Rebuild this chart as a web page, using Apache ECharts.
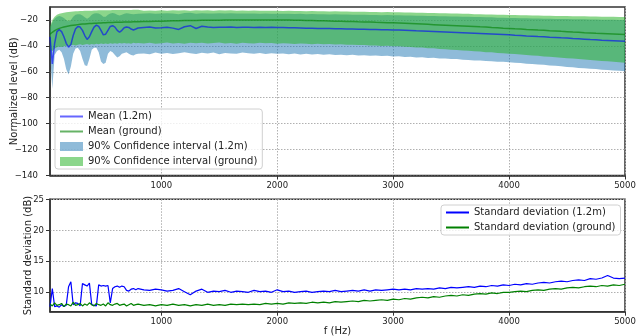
<!DOCTYPE html>
<html>
<head>
<meta charset="utf-8">
<script src="https://cdn.jsdelivr.net/npm/echarts@6/dist/echarts.min.js"></script>
<style>
  html, body { margin: 0; padding: 0; background: #fff; }
  #chart { width: 636px; height: 336px; }
</style>
</head>
<body>
<div id="chart"></div>
<script>
// frequency samples (Hz): 20 Hz steps up to 800, then 50 Hz steps
const freq = [
  40, 60, 80, 100, 120, 140, 160, 180, 200, 220,
  240, 260, 280, 300, 320, 340, 360, 380, 400, 420,
  440, 460, 480, 500, 520, 540, 560, 580, 600, 620,
  640, 660, 680, 700, 720, 740, 760, 780, 800,
  850, 900, 950, 1000, 1050, 1100, 1150, 1200, 1250, 1300,
  1350, 1400, 1450, 1500, 1550, 1600, 1650, 1700, 1750, 1800,
  1850, 1900, 1950, 2000, 2050, 2100, 2150, 2200, 2250, 2300,
  2350, 2400, 2450, 2500, 2550, 2600, 2650, 2700, 2750, 2800,
  2850, 2900, 2950, 3000, 3050, 3100, 3150, 3200, 3250, 3300,
  3350, 3400, 3450, 3500, 3550, 3600, 3650, 3700, 3750, 3800,
  3850, 3900, 3950, 4000, 4050, 4100, 4150, 4200, 4250, 4300,
  4350, 4400, 4450, 4500, 4550, 4600, 4650, 4700, 4750, 4800,
  4850, 4900, 4950, 5000
];

const meanHigh = [
  -33, -54, -38, -29, -27.5, -29, -33, -38, -41, -39,
  -32, -27, -25, -25.5, -28, -32, -35, -33, -29, -25.5,
  -24, -25, -28, -31.5, -31, -28, -25, -24.4, -25.5, -28,
  -29.5, -28, -26, -25.4, -25.8, -27, -27.7, -27, -26.2,
  -25.8, -25.5, -26.2, -26.0, -25.6, -26.3, -27.3, -25.2, -24.4, -26.6,
  -24.8, -25.4, -25.9, -25.6, -25.7, -25.5, -25.8, -25.6, -25.7, -25.9,
  -25.7, -25.8, -25.7, -25.8, -25.9, -26.0, -26.1, -26.2, -26.3, -26.4,
  -26.5, -26.5, -26.6, -26.7, -26.8, -26.9, -27.0, -27.1, -27.2, -27.3,
  -27.4, -27.5, -27.6, -27.7, -27.8, -28.0, -28.2, -28.4, -28.5, -28.7,
  -28.9, -29.1, -29.3, -29.5, -29.7, -29.9, -30.1, -30.3, -30.5, -30.7,
  -30.9, -31.1, -31.3, -31.5, -31.8, -32.0, -32.3, -32.5, -32.8, -33.0,
  -33.3, -33.5, -33.8, -34.0, -34.3, -34.5, -34.8, -35.1, -35.3, -35.6,
  -35.8, -36.0, -36.2, -36.4
];

const meanGround = [
  -31, -29.5, -28.3, -27.3, -26.5, -25.9, -25.4, -25.0, -24.6, -24.3,
  -24.0, -23.8, -23.6, -23.4, -23.2, -23.1, -22.9, -22.8, -22.7, -22.6,
  -22.5, -22.4, -22.3, -22.2, -22.1, -22.0, -22.0, -21.9, -21.8, -21.8,
  -21.7, -21.7, -21.6, -21.6, -21.5, -21.5, -21.4, -21.4, -21.3,
  -21.2, -21.1, -21.0, -20.9, -20.8, -20.7, -20.6, -20.5, -20.5, -20.4,
  -20.3, -20.3, -20.2, -20.2, -20.1, -20.1, -20.0, -20.0, -20.0, -20.0,
  -20.0, -20.0, -20.0, -20.0, -20.1, -20.1, -20.2, -20.3, -20.4, -20.5,
  -20.6, -20.7, -20.8, -20.9, -21.0, -21.1, -21.2, -21.4, -21.5, -21.6,
  -21.8, -21.9, -22.1, -22.2, -22.4, -22.6, -22.8, -23.0, -23.2, -23.4,
  -23.6, -23.8, -24.0, -24.2, -24.4, -24.6, -24.8, -25.0, -25.3, -25.5,
  -25.8, -26.0, -26.3, -26.5, -26.8, -27.0, -27.3, -27.5, -27.8, -28.0,
  -28.3, -28.5, -28.8, -29.0, -29.3, -29.5, -29.8, -30.0, -30.3, -30.5,
  -30.7, -30.9, -31.1, -31.3
];

// 90% confidence interval bounds, 1.2 m
const ciHighLower = [
  -45, -73, -47, -44, -43, -45, -50, -58, -62, -56,
  -46, -42, -41.5, -44, -50, -55, -55.5, -50, -43, -41.5,
  -41.5, -45, -52, -54, -53, -46, -44, -45, -47, -49,
  -48, -46, -45.5, -45, -46, -47, -47.5, -46.5, -46,
  -45.8, -46.5, -45.2, -46.0, -45.4, -46.3, -45.7, -44.9, -45.6, -46.2,
  -45.3, -45.9, -45.1, -46.4, -45.5, -45.8, -46.1, -45.2, -45.7, -46.0,
  -45.4, -46.3, -45.6, -46.0, -45.8, -46.4, -45.9, -46.6, -46.1, -46.7,
  -46.3, -46.9, -46.5, -47.0, -46.8, -47.3, -46.9, -47.5, -47.2, -47.6,
  -47.4, -47.9, -47.6, -48.1, -48.0, -48.5, -48.3, -48.9, -48.8, -49.3,
  -49.2, -49.7, -49.7, -50.2, -50.2, -50.7, -50.8, -51.2, -51.3, -51.7,
  -51.8, -52.2, -52.3, -52.6, -53.0, -53.2, -53.7, -53.9, -54.4, -54.6,
  -55.1, -55.4, -55.8, -56.2, -56.5, -57.0, -57.2, -57.7, -57.9, -58.4,
  -58.6, -59.0, -59.2, -59.5
];
const ciHighUpper = [
  -26, -22, -19, -17.5, -17, -17.5, -18.5, -20, -21, -20,
  -17.5, -16, -15.5, -15.5, -16.5, -18, -19, -18, -16, -15,
  -14.8, -15, -16, -17.5, -17.5, -16, -15, -14.7, -15, -16,
  -16.5, -16, -15.2, -14.9, -15, -15.4, -15.6, -15.4, -15.2,
  -15.1, -14.9, -15.2, -15.0, -14.8, -15.1, -15.6, -14.7, -14.5, -15.3,
  -14.8, -15.0, -15.1, -14.9, -15.0, -14.9, -15.1, -15.0, -15.1, -15.0,
  -15.2, -15.1, -15.2, -15.2, -15.3, -15.2, -15.4, -15.3, -15.5, -15.4,
  -15.6, -15.5, -15.7, -15.6, -15.8, -15.7, -15.9, -15.9, -16.0, -16.1,
  -16.1, -16.3, -16.2, -16.4, -16.4, -16.6, -16.6, -16.8, -16.8, -17.0,
  -17.0, -17.2, -17.2, -17.4, -17.4, -17.6, -17.6, -17.8, -17.8, -18.0,
  -18.0, -18.2, -18.2, -18.4, -18.4, -18.6, -18.6, -18.8, -18.8, -19.0,
  -19.0, -19.2, -19.2, -19.3, -19.4, -19.5, -19.5, -19.7, -19.7, -19.8,
  -19.9, -19.9, -20.0, -20.1
];

// 90% confidence interval bounds, ground
const ciGroundLower = [
  -43, -44, -42, -41, -40.5, -40.8, -40.2, -39.8, -40.3, -39.6,
  -39.2, -39.7, -39.1, -38.8, -39.4, -38.9, -38.6, -39.1, -38.5, -38.9,
  -38.3, -38.8, -38.2, -38.6, -38.1, -38.5, -37.9, -38.4, -38.0, -38.3,
  -37.8, -38.2, -37.7, -38.1, -37.9, -38.3, -37.6, -38.0, -37.8,
  -38.2, -37.6, -38.4, -37.9, -37.3, -38.1, -37.7, -38.3, -37.5, -38.0,
  -37.6, -38.2, -37.8, -37.4, -38.1, -37.7, -38.3, -37.6, -37.9, -38.2,
  -37.5, -38.0, -37.8, -38.3, -37.9, -38.2, -38.5, -38.1, -38.4, -38.7,
  -38.3, -38.8, -38.6, -39.0, -38.8, -39.2, -39.1, -39.4, -39.4, -39.7,
  -39.7, -40.0, -39.9, -40.2, -40.3, -40.7, -40.8, -41.2, -41.3, -41.8,
  -41.9, -42.4, -42.5, -43.0, -43.1, -43.6, -43.8, -44.2, -44.4, -44.9,
  -45.0, -45.5, -45.6, -46.0, -46.3, -46.7, -47.0, -47.4, -47.7, -48.1,
  -48.4, -48.8, -49.1, -49.5, -49.8, -50.2, -50.5, -50.9, -51.2, -51.6,
  -51.9, -52.3, -52.6, -53.0
];
const ciGroundUpper = [
  -25, -20, -17.5, -16, -15.3, -14.8, -14.4, -14.1, -13.8, -13.6,
  -13.4, -13.3, -13.2, -13.1, -13.0, -12.9, -12.9, -12.8, -12.8, -12.7,
  -12.7, -12.6, -12.6, -12.6, -12.5, -12.5, -12.5, -12.4, -12.4, -12.4,
  -12.4, -12.3, -12.3, -12.3, -12.3, -12.3, -12.2, -12.2, -12.2,
  -12.9, -12.7, -12.8, -12.6, -12.8, -12.5, -12.7, -12.6, -12.8, -12.5,
  -12.7, -12.6, -12.8, -12.6, -12.7, -12.6, -12.8, -12.7, -12.8, -12.7,
  -12.9, -12.8, -12.9, -12.9, -13.0, -12.9, -13.1, -13.0, -13.2, -13.1,
  -13.3, -13.2, -13.4, -13.3, -13.5, -13.4, -13.6, -13.6, -13.7, -13.8,
  -13.8, -14.0, -13.9, -14.1, -14.1, -14.3, -14.3, -14.5, -14.5, -14.7,
  -14.7, -14.9, -14.9, -15.1, -15.1, -15.3, -15.3, -15.5, -15.5, -15.7,
  -15.7, -15.9, -15.9, -16.1, -16.1, -16.3, -16.3, -16.5, -16.5, -16.7,
  -16.7, -16.9, -16.9, -17.0, -17.1, -17.2, -17.2, -17.4, -17.4, -17.5,
  -17.6, -17.6, -17.7, -17.8
];

// standard deviations (dB)
const stdHigh = [
  7.7, 10.6, 7.7, 7.8, 7.6, 8.0, 7.7, 7.9, 10.9, 11.7,
  8.0, 8.3, 8.2, 7.8, 11.4, 11.2, 11.0, 11.5, 8.0, 7.9,
  7.8, 11.2, 11.0, 11.1, 11.0, 11.1, 8.3, 10.6, 10.9, 11.0,
  10.8, 11.0, 10.9, 10.3, 10.2, 10.5, 10.6, 10.4, 10.6,
  10.4, 10.3, 10.5, 10.4, 10.2, 10.3, 10.6, 10.1, 9.6, 10.2,
  10.5, 10.0, 10.2, 10.1, 10.3, 10.0, 10.2, 10.1, 10.0, 10.3,
  10.1, 10.2, 10.0, 10.4, 10.1, 10.2, 10.0, 10.1, 10.2, 10.0,
  10.1, 10.2, 10.1, 10.3, 10.1, 10.2, 10.3, 10.2, 10.4, 10.2,
  10.4, 10.3, 10.4, 10.5, 10.4, 10.5, 10.4, 10.6, 10.5, 10.6,
  10.5, 10.7, 10.6, 10.8, 10.7, 10.8, 10.9, 10.8, 11.0, 10.9,
  11.1, 11.0, 11.2, 11.1, 11.3, 11.2, 11.4, 11.3, 11.5, 11.6,
  11.5, 11.7, 11.8, 11.7, 11.9, 12.0, 11.9, 12.2, 12.1, 12.3,
  12.7, 12.3, 12.2, 12.3
];
const stdGround = [
  8.1, 7.8, 8.3, 7.9, 8.0, 8.2, 7.7, 8.1, 8.0, 7.8,
  8.4, 7.9, 8.0, 8.2, 7.8, 8.1, 7.9, 8.3, 8.0, 7.8,
  8.2, 8.0, 7.9, 8.1, 7.8, 8.3, 8.0, 7.9, 8.1, 8.2,
  7.9, 8.0, 8.1, 7.8, 8.0, 8.2, 7.9, 8.0, 8.1,
  7.9, 8.0, 7.8, 8.0, 7.9, 8.1, 7.9, 8.0, 7.8, 8.0,
  7.9, 8.1, 7.9, 8.0, 7.9, 8.1, 8.0, 8.1, 8.0, 8.1,
  8.0, 8.2, 8.1, 8.2, 8.1, 8.3, 8.2, 8.3, 8.2, 8.4,
  8.3, 8.4, 8.3, 8.5, 8.4, 8.5, 8.6, 8.5, 8.7, 8.6,
  8.7, 8.8, 8.7, 8.9, 8.8, 9.0, 8.9, 9.1, 9.2, 9.1,
  9.3, 9.2, 9.4, 9.5, 9.4, 9.6, 9.5, 9.7, 9.8, 9.7,
  9.9, 9.8, 10.0, 10.0, 10.1, 10.2, 10.1, 10.3, 10.4, 10.3,
  10.5, 10.6, 10.5, 10.7, 10.8, 10.7, 10.9, 11.0, 10.9, 11.1,
  11.0, 11.2, 11.1, 11.3
];

// tick labels
const freqTicks = [1000, 2000, 3000, 4000, 5000];
const levelTicks = [-140, -120, -100, -80, -60, -40, -20];
const stdTicks = [10, 15, 20, 25];

const chart = echarts.init(document.getElementById('chart'));
const font = 'DejaVu Sans';
const ink = '#222';
const frame = '#333';
const blueBand = 'rgba(31,119,180,0.5)';
const greenBand = 'rgba(44,180,44,0.55)';
const gridLine = { show: true, lineStyle: { color: '#b0b0b0', width: 1, type: [1.5, 1.5] } };

function pairs(ys) {
    return freq.map((f, i) => [f, ys[i]]);
}
function minus(v) {
    return v < 0 ? '\u2212' + Math.abs(v) : String(v);
}

// confidence band as one filled polygon: upper edge left->right, lower edge back
function bandSeries(name, upper, lower, color) {
    return {
        name: name,
        type: 'custom',
        silent: true,
        itemStyle: { color: color },
        encode: { x: 0, y: [1, 2] },
        data: freq.map((f, i) => [f, lower[i], upper[i]]),
        renderItem: function (params, api) {
            if (params.dataIndexInside !== 0) return null;
            const pts = [];
            for (let i = 0; i < freq.length; i++) pts.push(api.coord([freq[i], upper[i]]));
            for (let i = freq.length - 1; i >= 0; i--) pts.push(api.coord([freq[i], lower[i]]));
            return {
                type: 'polygon',
                shape: { points: pts },
                style: { fill: color }
            };
        }
    };
}

function xAxis(gridIndex, extra) {
    return Object.assign({
        type: 'value',
        gridIndex: gridIndex,
        min: 40,
        max: 5000,
        axisLine: { show: true, onZero: false, lineStyle: { color: frame, width: 1.5 } },
        axisTick: { show: true, customValues: freqTicks, length: 4, lineStyle: { color: frame } },
        axisLabel: { customValues: freqTicks, formatter: v => String(v), fontFamily: font, fontSize: 8.5, color: ink, margin: 6 },
        splitLine: gridLine
    }, extra);
}

const legendBase = {
    orient: 'vertical',
    selectedMode: false,
    itemWidth: 23,
    itemHeight: 9,
    itemGap: 4,
    padding: [2, 5, 2, 4],
    backgroundColor: 'rgba(255,255,255,0.8)',
    borderColor: '#d0d0d0',
    borderWidth: 1,
    borderRadius: 3,
    textStyle: { fontFamily: font, fontSize: 10, color: ink, lineHeight: 11 }
};
const noDot = { opacity: 0 };

const option = {
    animation: false,
    backgroundColor: '#fff',
    grid: [
        { left: 50, right: 11, top: 7, height: 168.5, show: true, borderColor: frame, borderWidth: 1.5, outerBoundsMode: 'none', containLabel: false },
        { left: 50, right: 11, top: 199.3, height: 112.4, show: true, borderColor: frame, borderWidth: 1.5, outerBoundsMode: 'none', containLabel: false }
    ],
    xAxis: [
        xAxis(0, {}),
        xAxis(1, {
            name: 'f (Hz)',
            nameLocation: 'middle',
            nameGap: 15,
            nameMoveOverlap: false,
            nameTextStyle: { fontFamily: font, fontSize: 10, color: ink }
        })
    ],
    yAxis: [
        {
            type: 'value',
            gridIndex: 0,
            min: -140,
            max: -10,
            name: 'Normalized level (dB)',
            nameLocation: 'middle',
            nameGap: 31,
            nameMoveOverlap: false,
            nameTextStyle: { fontFamily: font, fontSize: 10, color: ink },
            axisLine: { show: true, lineStyle: { color: frame, width: 1.5 } },
            axisTick: { show: true, customValues: levelTicks, length: 4, lineStyle: { color: frame } },
            axisLabel: { customValues: levelTicks, formatter: minus, fontFamily: font, fontSize: 8.5, color: ink, margin: 12 },
            splitLine: gridLine
        },
        {
            type: 'value',
            gridIndex: 1,
            min: 6.87,
            max: 25,
            name: 'Standard deviation (dB)',
            nameLocation: 'middle',
            nameGap: 17,
            nameMoveOverlap: false,
            nameTextStyle: { fontFamily: font, fontSize: 10, color: ink },
            axisLine: { show: true, lineStyle: { color: frame, width: 1.5 } },
            axisTick: { show: true, customValues: stdTicks, length: 4, lineStyle: { color: frame } },
            axisLabel: { customValues: stdTicks, formatter: v => String(v), fontFamily: font, fontSize: 8.5, color: ink, margin: 6 },
            splitLine: gridLine
        }
    ],
    legend: [
        Object.assign({}, legendBase, {
            left: 55,
            top: 109,
            data: [
                { name: 'Mean (1.2m)', itemStyle: noDot },
                { name: 'Mean (ground)', itemStyle: noDot },
                { name: '90% Confidence interval (1.2m)', icon: 'rect', itemStyle: { color: blueBand } },
                { name: '90% Confidence interval (ground)', icon: 'rect', itemStyle: { color: greenBand } }
            ]
        }),
        Object.assign({}, legendBase, {
            left: 441,
            top: 205,
            data: [
                { name: 'Standard deviation (1.2m)', itemStyle: noDot },
                { name: 'Standard deviation (ground)', itemStyle: noDot }
            ]
        })
    ],
    series: [
        bandSeries('90% Confidence interval (1.2m)', ciHighUpper, ciHighLower, blueBand),
        bandSeries('90% Confidence interval (ground)', ciGroundUpper, ciGroundLower, greenBand),
        {
            name: 'Mean (1.2m)',
            type: 'line',
            symbol: 'none',
            itemStyle: { color: '#0000ff' },
            lineStyle: { color: '#0000ff', width: 1.5, opacity: 0.6 },
            data: pairs(meanHigh)
        },
        {
            name: 'Mean (ground)',
            type: 'line',
            symbol: 'none',
            itemStyle: { color: '#008000' },
            lineStyle: { color: '#008000', width: 1.5, opacity: 0.6 },
            data: pairs(meanGround)
        },
        {
            name: 'Standard deviation (1.2m)',
            type: 'line',
            xAxisIndex: 1,
            yAxisIndex: 1,
            symbol: 'none',
            itemStyle: { color: '#0000ff' },
            lineStyle: { color: '#0000ff', width: 1.2 },
            data: pairs(stdHigh)
        },
        {
            name: 'Standard deviation (ground)',
            type: 'line',
            xAxisIndex: 1,
            yAxisIndex: 1,
            symbol: 'none',
            itemStyle: { color: '#008000' },
            lineStyle: { color: '#008000', width: 1.2 },
            data: pairs(stdGround)
        }
    ]
};

chart.setOption(option);
</script>
</body>
</html>
